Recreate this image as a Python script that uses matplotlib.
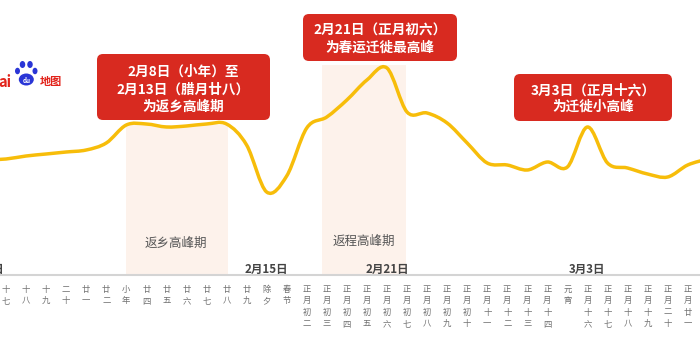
import matplotlib
matplotlib.use("Agg")
import matplotlib.pyplot as plt
import numpy as np
from matplotlib.path import Path
from matplotlib.patches import PathPatch, Rectangle, FancyBboxPatch, Ellipse

plt.rcParams['font.family'] = ['Noto Sans CJK SC', 'DejaVu Sans']

# ---------------- data ----------------
dates = ["2月1日", "2月2日", "2月3日", "2月4日", "2月5日", "2月6日", "2月7日", "2月8日",
         "2月9日", "2月10日", "2月11日", "2月12日", "2月13日", "2月14日", "2月15日",
         "2月16日", "2月17日", "2月18日", "2月19日", "2月20日", "2月21日", "2月22日",
         "2月23日", "2月24日", "2月25日", "2月26日", "2月27日", "2月28日", "3月1日",
         "3月2日", "3月3日", "3月4日", "3月5日", "3月6日", "3月7日", "3月8日", "3月9日"]
lunar = ["十六", "十七", "十八", "十九", "二十", "廿一", "廿二", "小年", "廿四", "廿五",
         "廿六", "廿七", "廿八", "廿九", "除夕", "春节", "正月初二", "正月初三", "正月初四",
         "正月初五", "正月初六", "正月初七", "正月初八", "正月初九", "正月初十", "正月十一",
         "正月十二", "正月十三", "正月十四", "元宵", "正月十六", "正月十七", "正月十八",
         "正月十九", "正月二十", "正月廿一", "正月廿二"]
migration_index = [115, 116, 119, 121, 123, 125, 132, 150, 151, 148, 149, 151, 151, 130, 83,
                   99, 147, 158, 175, 195, 207, 163, 162, 152, 132, 112, 110, 105, 113, 108,
                   148, 112, 107, 101, 98, 110, 116]
highlight_dates = ["2月1日", "2月15日", "2月21日", "3月3日"]

# ---------------- figure ----------------
fig = plt.figure(figsize=(7, 3.5), dpi=100)
ax = fig.add_axes([0, 0, 1, 1])
n = len(dates)
xs = np.arange(n)

# shaded periods
i8 = dates.index("2月8日")
i13 = dates.index("2月13日")
ax.add_patch(Rectangle((i8, 0), i13 - i8 + 0.07, 150, facecolor="#fdf2eb", edgecolor="none", zorder=1))
i18 = dates.index("2月18日")
ax.add_patch(Rectangle((i18 - 0.25, 0), 4.2, 210, facecolor="#fdf2eb", edgecolor="none", zorder=1))
ax.text(i8 + 2.45, 32, "返乡高峰期", ha="center", va="center", fontsize=9, color="#555555", zorder=2)
ax.text(i18 - 0.25 + 2.1, 34, "返程高峰期", ha="center", va="center", fontsize=9, color="#555555", zorder=2)

# smooth curve (Catmull-Rom -> cubic Bezier through the daily values)
P = np.column_stack([xs, migration_index]).astype(float)
verts = [tuple(P[0])]
codes = [Path.MOVETO]
for i in range(n - 1):
    p0 = P[i - 1] if i > 0 else P[i]
    p1 = P[i]
    p2 = P[i + 1]
    p3 = P[i + 2] if i + 2 < n else P[i + 1]
    c1 = p1 + (p2 - p0) / 6.0
    c2 = p2 - (p3 - p1) / 6.0
    verts += [tuple(c1), tuple(c2), tuple(p2)]
    codes += [Path.CURVE4] * 3
ax.add_patch(PathPatch(Path(verts, codes), facecolor="none", edgecolor="#f7bd0a",
                       lw=2.5, capstyle="round", joinstyle="round", zorder=3))

# axis line and labels
for s in ["top", "left", "right"]:
    ax.spines[s].set_visible(False)
ax.spines["bottom"].set_position(("data", 0))
ax.spines["bottom"].set_color("#d4d4d4")
ax.spines["bottom"].set_linewidth(1.5)
ax.set_yticks([])
ax.set_xticks(xs, ["\n".join(lab) for lab in lunar])
ax.tick_params(axis="x", length=0, pad=7, labelsize=6, labelcolor="#707070")
for t in ax.get_xticklabels():
    t.set_linespacing(1.35)
    t.set_verticalalignment("top")
for d in highlight_dates:
    ax.text(dates.index(d), 5.5, d, ha="center", va="center", fontsize=8.3,
            fontweight="bold", color="#444444", zorder=4)

# view limits (set after ticks so they are not expanded): 2月2日 sits 6 px from the left edge
px_per_day = 20.05
x0 = 1 - 6 / px_per_day
ax.set_xlim(x0, x0 + 700 / px_per_day)
ax.set_ylim(-75, 275)

# ---------------- decorations in pixel space ----------------
deco = fig.add_axes([0, 0, 1, 1], zorder=5)
deco.set_xlim(0, 700)
deco.set_ylim(350, 0)
deco.axis("off")
deco.patch.set_visible(False)

red = "#d82a20"
boxes = [
    (97, 54, 173, 66, ["2月8日（小年）至", "2月13日（腊月廿八）", "为返乡高峰期"], 72, 17.5),
    (303, 14, 154, 47, ["2月21日（正月初六）", "为春运迁徙最高峰"], 31, 17),
    (514, 74, 158, 47, ["3月3日（正月十六）", "为迁徙小高峰"], 91, 16),
]
for bx, by, bw, bh, lines, ty, dy in boxes:
    deco.add_patch(FancyBboxPatch((bx, by), bw, bh, boxstyle="round,pad=0,rounding_size=6",
                                  facecolor=red, edgecolor="none"))
    for k, line in enumerate(lines):
        deco.text(bx + bw / 2, ty + k * dy, line, ha="center", va="center",
                  fontsize=9.8, fontweight="bold", color="white")

# Baidu map logo (partially cropped)
deco.text(-2, 82, "ai", ha="left", va="center", fontsize=10.5, fontweight="bold", color="#e2231a")
blue = "#2a36d6"
for cx, cy, w, h in [(17.5, 71, 5, 6.5), (22.5, 64.5, 5.5, 7), (30, 64.5, 5.5, 7), (35, 71, 5, 6.5)]:
    deco.add_patch(Ellipse((cx, cy), w, h, facecolor=blue, edgecolor="none"))
deco.add_patch(Ellipse((26.3, 79.5), 15, 12, facecolor=blue, edgecolor="none"))
deco.text(26.3, 80.5, "du", ha="center", va="center", fontsize=4.5, fontweight="bold", color="white")
deco.text(40, 81, "地图", ha="left", va="center", fontsize=8, fontweight="bold", color="#e2231a")

fig.savefig("out.png", dpi=100)
